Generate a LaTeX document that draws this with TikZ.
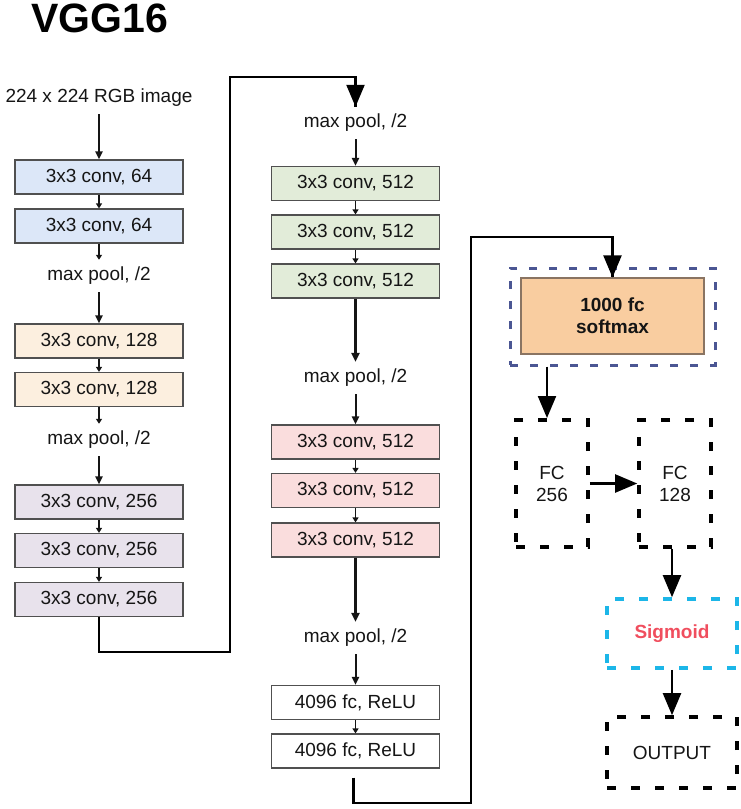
\documentclass[tikz,border=0pt]{standalone}
\usepackage{fontspec}
\setmainfont{Liberation Sans}
\usetikzlibrary{arrows.meta,positioning,calc}

\definecolor{convblue}{HTML}{DCE7F8}
\definecolor{convpeach}{HTML}{FCEFDF}
\definecolor{convlav}{HTML}{E8E2EC}
\definecolor{convgreen}{HTML}{E2ECD9}
\definecolor{convpink}{HTML}{FADDDD}
\definecolor{boxgray}{HTML}{505050}
\definecolor{softfill}{HTML}{F9CDA0}
\definecolor{softedge}{HTML}{8A7462}
\definecolor{dashblue}{HTML}{4B5693}
\definecolor{dashcyan}{HTML}{1CB6E8}
\definecolor{sigred}{HTML}{F04E5E}
\definecolor{txt}{HTML}{151515}

\newcommand{\boxfont}{\fontsize{19}{22}\selectfont}

\tikzset{
  layer/.style={draw=boxgray, line width=1.2pt, minimum width=168pt, minimum height=34pt, inner sep=0pt, text=txt, font=\boxfont},
  ptext/.style={minimum height=32pt, inner sep=0pt, text=txt, font=\boxfont},
  smallarr/.style={line width=1.8pt, draw=txt, -{Triangle[length=5pt,width=6pt]}},
  midarr/.style={line width=2pt, draw=txt, -{Triangle[length=8pt,width=7pt]}},
  longarr/.style={line width=2.6pt, draw=txt, -{Triangle[length=9pt,width=8pt]}},
  wire/.style={line width=2.6pt, draw=black},
  bigarr/.style={line width=2.2pt, draw=black, -{Triangle[length=22pt,width=18pt]}},
  dashbox/.style={draw=black, line width=3.6pt, dash pattern=on 9pt off 15pt, inner sep=0pt, align=center, text=txt, font=\boxfont}
}

\begin{document}
\begin{tikzpicture}[x=1pt,y=-1pt]
\useasboundingbox (0,0) rectangle (740,809);

% title
\node[font=\bfseries\fontsize{41}{41}\selectfont] (title) at (100,18) {VGG16};

% first column
\node[ptext] (img) at (99,98) {224 x 224 RGB image};
\node[layer, fill=convblue] (c64a) at (99,177) {3x3 conv, 64};
\node[layer, fill=convblue] (c64b) at (99,226) {3x3 conv, 64};
\node[ptext] (pool1) at (99,276) {max pool, /2};
\node[layer, fill=convpeach] (c128a) at (99,341) {3x3 conv, 128};
\node[layer, fill=convpeach] (c128b) at (99,389.5) {3x3 conv, 128};
\node[ptext] (pool2) at (99,440) {max pool, /2};
\node[layer, fill=convlav] (c256a) at (99,502) {3x3 conv, 256};
\node[layer, fill=convlav] (c256b) at (99,550.5) {3x3 conv, 256};
\node[layer, fill=convlav] (c256c) at (99,599.5) {3x3 conv, 256};

\draw[midarr] (img) -- (c64a);
\draw[smallarr] (c64a) -- (c64b);
\draw[smallarr] (c64b) -- (pool1);
\draw[midarr] (pool1) -- (c128a);
\draw[smallarr] (c128a) -- (c128b);
\draw[smallarr] (c128b) -- (pool2);
\draw[midarr] (pool2) -- (c256a);
\draw[smallarr] (c256a) -- (c256b);
\draw[smallarr] (c256b) -- (c256c);

% second column
\node[ptext] (pool3) at (355.5,123) {max pool, /2};
\node[layer, fill=convgreen] (c512a) at (355.5,183.5) {3x3 conv, 512};
\node[layer, fill=convgreen] (c512b) at (355.5,232) {3x3 conv, 512};
\node[layer, fill=convgreen] (c512c) at (355.5,281) {3x3 conv, 512};
\node[ptext] (pool4) at (355.5,378) {max pool, /2};
\node[layer, fill=convpink] (c512d) at (355.5,442) {3x3 conv, 512};
\node[layer, fill=convpink] (c512e) at (355.5,490.5) {3x3 conv, 512};
\node[layer, fill=convpink] (c512f) at (355.5,540) {3x3 conv, 512};
\node[ptext] (pool5) at (355.5,638) {max pool, /2};
\node[layer, fill=white] (fc4096a) at (355.5,702.5) {4096 fc, ReLU};
\node[layer, fill=white] (fc4096b) at (355.5,751) {4096 fc, ReLU};

\draw[midarr] (pool3) -- (c512a);
\draw[smallarr] (c512a) -- (c512b);
\draw[smallarr] (c512b) -- (c512c);
\draw[longarr] (c512c) -- (pool4);
\draw[midarr] (pool4) -- (c512d);
\draw[smallarr] (c512d) -- (c512e);
\draw[smallarr] (c512e) -- (c512f);
\draw[longarr] (c512f) -- (pool5);
\draw[midarr] (pool5) -- (fc4096a);
\draw[smallarr] (fc4096a) -- (fc4096b);

% links between columns
\coordinate (j1) at (230,652);
\coordinate (j2) at (230,77);
\draw[wire] (c256c.south) |- (j1) -- (j2) -| (pool3.north);
\draw[bigarr] (j2 -| pool3.north) -- (pool3.north);

\coordinate (j3) at (471,803);
\coordinate (j4) at (471,237);

% last column
\node[draw=dashblue, line width=3pt, dash pattern=on 8pt off 12pt, minimum width=205pt, minimum height=97pt, inner sep=0pt] (softwrap) at (612.5,316.5) {};
\node[draw=softedge, fill=softfill, line width=1.2pt, minimum width=183pt, minimum height=76pt, inner sep=0pt, align=center, text=txt, font=\bfseries\boxfont] (soft) at (612.5,316) {1000 fc\\softmax};
\node[dashbox, minimum width=72pt, minimum height=127pt] (fc256) at (552,483.5) {FC\\256};
\node[dashbox, minimum width=72pt, minimum height=127pt] (fc128) at (675,483.5) {FC\\128};
\node[dashbox, draw=dashcyan, minimum width=130pt, minimum height=69pt, text=sigred, font=\bfseries\boxfont] (sigm) at (672,633.5) {Sigmoid};
\node[dashbox, minimum width=130pt, minimum height=71pt] (output) at (672,752.5) {OUTPUT};

\draw[wire] ($(fc4096b.south)+(-2,9)$) |- (j3) -- (j4) -| (soft.north);
\draw[bigarr] (j4 -| soft.north) ++(0,1) -- (soft.north);
\draw[bigarr] (softwrap.south -| 547,0) -- (547,418);
\draw[bigarr] (fc256.east) -- (fc128.west);
\draw[bigarr] (fc128.south -| sigm.north) -- (sigm.north);
\draw[bigarr] (sigm.south) -- (output.north);

\end{tikzpicture}
\end{document}
